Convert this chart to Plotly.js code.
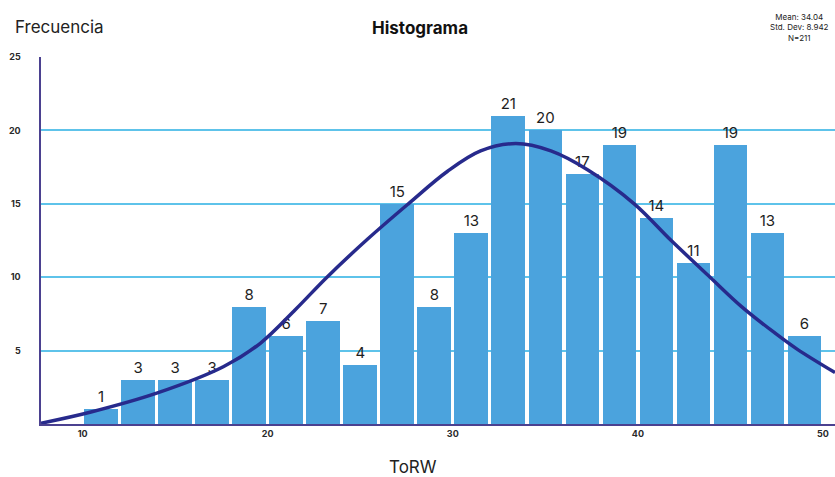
<!DOCTYPE html>
<html>
<head>
<meta charset="utf-8">
<script src="https://cdn.plot.ly/plotly-3.0.1.min.js"></script>
<style>html,body{margin:0;padding:0;background:#fff;}#chart{width:835px;height:477px;}</style>
</head>
<body>
<div id="chart"></div>
<script>
// Bin centers (bin width 2) and frequencies
const binCenters = [11,13,15,17,19,21,23,25,27,29,31,33,35,37,39,41,43,45,47,49];
const frequencies = [1,3,3,3,8,6,7,4,15,8,13,21,20,17,19,14,11,19,13,6];
// Normal curve points
const curveX = [7.75,10.4,14.0,17.6,19.6,21.5,23.2,25.4,27.6,29.7,31.5,33.4,35.3,37.3,39.8,41.8,43.9,45.6,47.4,48.6,50.65];
const curveY = [0.05,0.8,2.1,3.9,5.5,7.8,10.0,12.6,15.0,17.2,18.6,19.1,18.6,17.3,15.0,12.5,10.0,8.0,6.2,5.1,3.5];
const xTicks = [10,20,30,40,50];
const yTicks = [5,10,15,20,25];

const FONT = 'Inter, Lato, "Open Sans", sans-serif';

const bars = {
  type: 'bar',
  x: binCenters,
  y: frequencies,
  width: 1.82,
  marker: {color: '#4ba3dd', line: {width: 0}},
  text: frequencies.map(String),
  textposition: 'outside',
  textfont: {family: FONT, size: 15, color: '#1e1e1e'},
  cliponaxis: false,
  hoverinfo: 'x+y'
};
const curve = {
  type: 'scatter',
  mode: 'lines',
  x: curveX,
  y: curveY,
  line: {color: '#272a8c', width: 3.5, shape: 'spline', smoothing: 1},
  cliponaxis: true,
  hoverinfo: 'skip'
};

const layout = {
  width: 835, height: 477,
  margin: {l: 41, r: 0, t: 57, b: 53},
  paper_bgcolor: '#ffffff',
  plot_bgcolor: '#ffffff',
  showlegend: false,
  bargap: 0,
  font: {family: FONT, color: '#222'},
  xaxis: {
    range: [7.75, 50.65],
    tickvals: xTicks,
    ticktext: xTicks.map(String),
    tickfont: {family: FONT, size: 9, color: '#2a2a2a', weight: 'bold'},
    showgrid: false,
    zeroline: false,
    showline: true,
    linecolor: '#4b4190',
    linewidth: 2,
    ticks: '',
    fixedrange: true
  },
  yaxis: {
    range: [0, 25],
    tickvals: yTicks,
    ticktext: yTicks.map(String),
    tickfont: {family: FONT, size: 9, color: '#2a2a2a', weight: 'bold'},
    showgrid: true,
    gridcolor: '#5ec3ea',
    gridwidth: 2,
    zeroline: false,
    showline: true,
    linecolor: '#4b4190',
    linewidth: 2.5,
    ticks: '',
    ticklabelstandoff: 16,
    fixedrange: true
  },
  annotations: [
    {text: 'Frecuencia', xref: 'paper', yref: 'paper', x: -0.035, y: 1.0, yshift: 30, xanchor: 'left', yanchor: 'middle',
     showarrow: false, font: {family: FONT, size: 17, color: '#222'}},
    {text: '<b>Histograma</b>', xref: 'paper', yref: 'paper', x: 0.477, y: 1.0, yshift: 29, xanchor: 'center', yanchor: 'middle',
     showarrow: false, font: {family: FONT, size: 17, color: '#111'}},
    {text: 'Mean: 34.04<br>Std. Dev: 8.942<br>N=211', xref: 'paper', yref: 'paper', x: 0.955, y: 1.0, yshift: 30, xanchor: 'center', yanchor: 'middle',
     showarrow: false, align: 'center', font: {family: FONT, size: 8, color: '#222'}},
    {text: 'ToRW', xref: 'paper', yref: 'paper', x: 0.468, y: 0, yshift: -43, xanchor: 'center', yanchor: 'middle',
     showarrow: false, font: {family: FONT, size: 17, color: '#222'}}
  ]
};

Plotly.newPlot('chart', [bars, curve], layout, {displayModeBar: false, staticPlot: true});
</script>
</body>
</html>
